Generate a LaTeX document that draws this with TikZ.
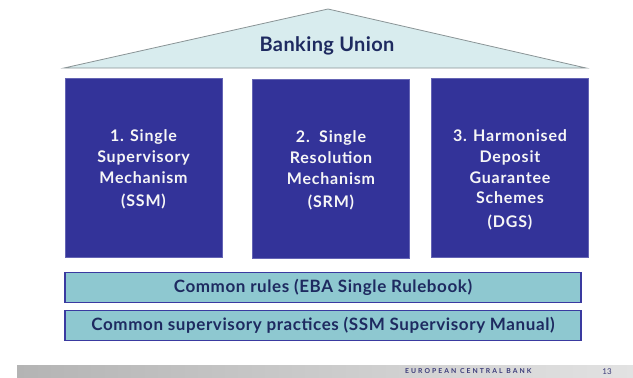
\documentclass[tikz,border=0pt]{standalone}
\usepackage{fontspec}
\setmainfont{Lato}
\definecolor{roofFill}{HTML}{D8ECEE}
\definecolor{roofLine}{HTML}{8A9496}
\definecolor{pillarFill}{HTML}{333399}
\definecolor{pillarLine}{HTML}{6464B4}
\definecolor{barFill}{HTML}{8EC8D0}
\definecolor{barLine}{HTML}{3A3AA0}
\definecolor{navy}{HTML}{1E2A60}
\definecolor{footA}{HTML}{B4B4B4}
\definecolor{footB}{HTML}{E2E2E2}
\definecolor{footText}{HTML}{3A3A78}
\tikzset{
  pillar/.style={draw=pillarLine, line width=0.8pt, fill=pillarFill, minimum width=157pt, minimum height=179pt, inner sep=0pt},
  pillartext/.style={anchor=north, align=center, text=white!93!gray, font=\bfseries\fontsize{16}{20.8}\selectfont\addfontfeature{LetterSpace=5}, inner sep=0pt},
  bar/.style={draw=barLine, line width=1.4pt, fill=barFill, minimum width=516pt, minimum height=30pt, inner sep=0pt, text=navy, font=\bfseries\fontsize{17}{18}\selectfont\addfontfeature{LetterSpace=3.5}},
}
\begin{document}
\begin{tikzpicture}[x=1pt,y=-1pt]
\useasboundingbox (0,0) rectangle (633,378);
% roof
\coordinate (rl) at (64,68);
\coordinate (rt) at (328,9);
\coordinate (rr) at (586,68);
\draw[draw=roofLine, line width=0.8pt, fill=roofFill, line join=miter] (rl) -- (rt) -- (rr) -- cycle;
\node[text=navy, font=\bfseries\fontsize{20}{22}\selectfont\addfontfeature{LetterSpace=2}, anchor=base] (bu) at (327,51) {Banking Union};
% pillars
\node[pillar] (p1) at (143.5,167.5) {};
\node[pillar] (p2) at (331,169) {};
\node[pillar] (p3) at (510,167.5) {};
\node[pillartext] (t1) at (p1.center |- 0,129.5) {1. Single\\Supervisory\\Mechanism\\[3pt](SSM)};
\node[pillartext] (t2) at (p2.center |- 0,130.5) {2.\ \ Single\\Resolution\\Mechanism\\[3pt](SRM)};
\node[pillartext] (t3) at (p3.center |- 0,129.5) {3. Harmonised\\Deposit\\Guarantee\\Schemes\\[3pt](DGS)};
% bars
\node[bar] (b1) at (323,287.5) {Common rules (EBA Single Rulebook)};
\node[bar] (b2) at (323,325.5) {Common supervisory practices (SSM Supervisory Manual)};
% footer
\shade[left color=footA, right color=footB] (17,365) rectangle (633,378);
\node[font=\bfseries\fontsize{6.8}{7}\selectfont\addfontfeature{LetterSpace=30}, text=footText, anchor=west, inner sep=0pt] (ecb) at (405,371.5) {EUROPEAN CENTRAL BANK};
\node[font=\fontsize{8}{9}\selectfont, text=footText, inner sep=0pt] (pg) at (607,371.5) {13};
\end{tikzpicture}
\end{document}
